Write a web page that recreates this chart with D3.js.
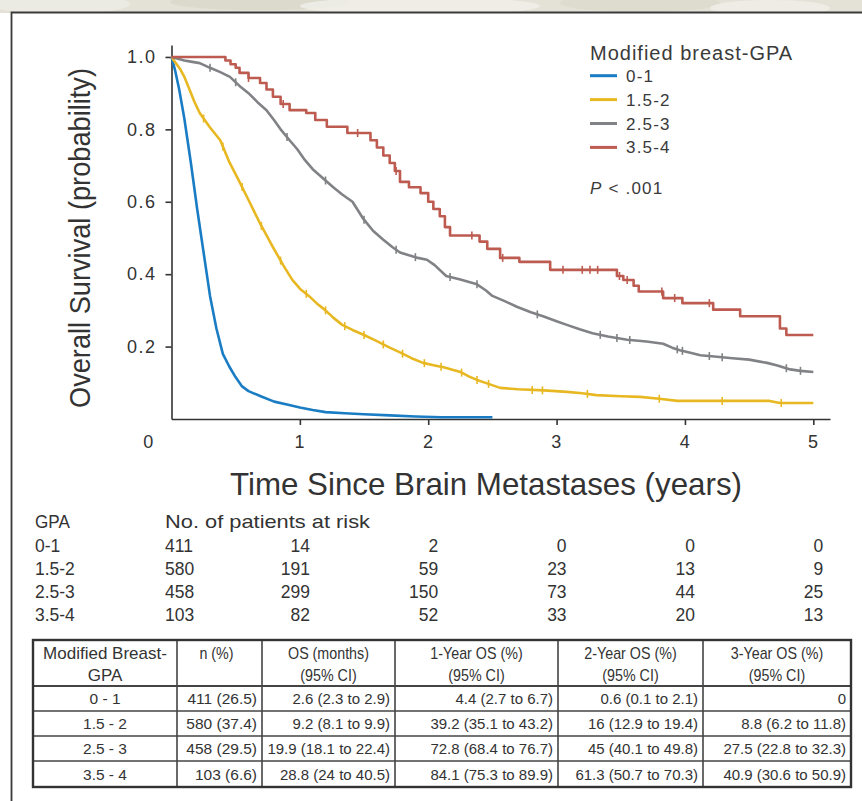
<!DOCTYPE html>
<html><head><meta charset="utf-8">
<script src="https://cdn.jsdelivr.net/npm/d3@7"></script>
<style>
html,body{margin:0;padding:0;background:#fff;}
svg{display:block;font-family:"Liberation Sans",Arial,Helvetica,sans-serif;}
</style></head><body>
<svg id="chart" width="862" height="801"></svg>
<script>
// ---------------- DATA ----------------
const groups = ["0-1", "1.5-2", "2.5-3", "3.5-4"];
const legendTitle = "Modified breast-GPA";
const pValueText = ".001";

// Kaplan-Meier estimates: [years, survival probability]
const curve01 = [[0,1],[0.03,0.96],[0.06,0.91],[0.1,0.83],[0.15,0.71],[0.2,0.58],[0.25,0.46],[0.3,0.34],[0.35,0.25],[0.4,0.18],[0.45,0.145],[0.5,0.115],[0.55,0.09],[0.6,0.077],[0.7,0.062],[0.8,0.048],[0.9,0.04],[1.0,0.032],[1.1,0.025],[1.2,0.019],[1.35,0.016],[1.5,0.013],[1.7,0.01],[1.9,0.007],[2.1,0.005],[2.5,0.005]];
const curve152 = [[0,1],[0.03,0.985],[0.07,0.965],[0.1,0.945],[0.14,0.91],[0.18,0.875],[0.22,0.845],[0.3,0.805],[0.38,0.77],[0.45,0.71],[0.53,0.655],[0.6,0.605],[0.69,0.54],[0.79,0.475],[0.87,0.425],[0.94,0.385],[1.0,0.36],[1.07,0.34],[1.13,0.32],[1.2,0.3],[1.26,0.28],[1.33,0.26],[1.41,0.246],[1.5,0.232],[1.6,0.215],[1.7,0.197],[1.78,0.184],[1.87,0.168],[1.96,0.155],[2.05,0.148],[2.12,0.143],[2.25,0.13],[2.32,0.117],[2.38,0.108],[2.47,0.097],[2.56,0.086],[2.7,0.082],[2.9,0.079],[3.08,0.075],[3.2,0.071],[3.31,0.066],[3.5,0.063],[3.65,0.061],[3.8,0.056],[3.94,0.05],[4.2,0.05],[4.5,0.05],[4.66,0.05],[4.74,0.044],[5.0,0.044]];
const curve253 = [[0,1],[0.05,0.995],[0.1,0.99],[0.15,0.987],[0.22,0.983],[0.3,0.97],[0.38,0.958],[0.455,0.945],[0.53,0.92],[0.6,0.9],[0.67,0.875],[0.74,0.853],[0.8,0.825],[0.85,0.8],[0.92,0.77],[0.98,0.745],[1.04,0.715],[1.1,0.69],[1.18,0.665],[1.26,0.64],[1.33,0.62],[1.41,0.6],[1.49,0.555],[1.57,0.52],[1.65,0.495],[1.72,0.475],[1.78,0.46],[1.85,0.452],[1.92,0.445],[1.99,0.44],[2.05,0.425],[2.14,0.395],[2.25,0.385],[2.38,0.372],[2.45,0.355],[2.5,0.34],[2.6,0.325],[2.69,0.31],[2.8,0.295],[2.9,0.283],[3.0,0.27],[3.08,0.26],[3.18,0.248],[3.28,0.237],[3.4,0.228],[3.55,0.219],[3.7,0.214],[3.83,0.208],[3.9,0.197],[3.96,0.19],[4.05,0.182],[4.12,0.176],[4.25,0.172],[4.37,0.168],[4.5,0.164],[4.64,0.155],[4.72,0.148],[4.82,0.137],[4.9,0.133],[5.0,0.13]];
const curve354 = [[0,1],[0.42,0.99],[0.46,0.98],[0.5,0.97],[0.53,0.956],[0.6,0.942],[0.69,0.928],[0.74,0.91],[0.79,0.89],[0.85,0.87],[0.92,0.853],[1.05,0.845],[1.12,0.826],[1.21,0.807],[1.37,0.79],[1.55,0.77],[1.6,0.75],[1.65,0.728],[1.7,0.707],[1.74,0.685],[1.78,0.655],[1.85,0.64],[1.94,0.624],[2.0,0.6],[2.04,0.58],[2.09,0.56],[2.13,0.53],[2.17,0.507],[2.4,0.49],[2.46,0.47],[2.56,0.445],[2.71,0.434],[2.95,0.412],[3.47,0.395],[3.52,0.384],[3.6,0.368],[3.64,0.352],[3.83,0.334],[3.98,0.32],[4.22,0.302],[4.43,0.284],[4.74,0.25],[4.79,0.232],[5.0,0.232]];

// censoring marks (years)
const censor01 = [];
const censor152 = [0.25,0.4,0.55,0.7,0.85,1.05,1.2,1.35,1.5,1.65,1.8,1.97,2.1,2.26,2.38,2.47,2.81,2.89,3.24,3.8,4.29,4.75];
const censor253 = [0.3,0.5,0.9,1.2,1.5,1.75,1.9,2.17,2.38,2.85,3.34,3.47,3.57,3.94,3.98,4.19,4.29,4.79,4.9];
const censor354 = [0.6,0.87,1.45,1.75,2.34,2.58,3.05,3.2,3.26,3.32,3.49,3.55,3.82,3.92,4.19];

const xTicks = [0, 1, 2, 3, 4, 5];
const yTicks = [0.2, 0.4, 0.6, 0.8, 1.0];
const xTitle = "Time Since Brain Metastases (years)";
const yTitle = "Overall Survival (probability)";

// numbers at risk
const riskHeader = ["GPA", "No. of patients at risk"];
const riskTimes = [0, 1, 2, 3, 4, 5];
const risk01 = [411, 14, 2, 0, 0, 0];
const risk152 = [580, 191, 59, 23, 13, 9];
const risk253 = [458, 299, 150, 73, 44, 25];
const risk354 = [103, 82, 52, 33, 20, 13];

// summary table
const tableHeader = [["Modified Breast-", "GPA"], ["n (%)"], ["OS (months)", "(95% CI)"], ["1-Year OS (%)", "(95% CI)"], ["2-Year OS (%)", "(95% CI)"], ["3-Year OS (%)", "(95% CI)"]];
const tableGPA = ["0 - 1", "1.5 - 2", "2.5 - 3", "3.5 - 4"];
const tableN = ["411 (26.5)", "580 (37.4)", "458 (29.5)", "103 (6.6)"];
const tableOS = ["2.6 (2.3 to 2.9)", "9.2 (8.1 to 9.9)", "19.9 (18.1 to 22.4)", "28.8 (24 to 40.5)"];
const table1y = ["4.4 (2.7 to 6.7)", "39.2 (35.1 to 43.2)", "72.8 (68.4 to 76.7)", "84.1 (75.3 to 89.9)"];
const table2y = ["0.6 (0.1 to 2.1)", "16 (12.9 to 19.4)", "45 (40.1 to 49.8)", "61.3 (50.7 to 70.3)"];
const table3y = ["0", "8.8 (6.2 to 11.8)", "27.5 (22.8 to 32.3)", "40.9 (30.6 to 50.9)"];

// ---------------- DRAW ----------------
const colors = ["#1a7dc4", "#e8b823", "#808285", "#bd5b50"];
const curves = [curve01, curve152, curve253, curve354];
const censors = [censor01, censor152, censor253, censor354];
const stepped = [false, false, false, true];
const risks = [risk01, risk152, risk253, risk354];
const ink = "#333";

const svg = d3.select("#chart");

function condense(sel, factor) {
  sel.each(function () {
    const w = this.getComputedTextLength();
    d3.select(this).attr("textLength", w * factor).attr("lengthAdjust", "spacingAndGlyphs");
  });
  return sel;
}

// faint photographic band on top
const band = svg.append("g");
band.append("rect").attr("x", 0).attr("y", 0).attr("width", 862).attr("height", 13).attr("fill", "#e4e2d7");
[[60,4,70,10,"#eeede6"],[260,2,90,8,"#d9d7ca"],[420,6,120,9,"#f1f0ea"],[640,3,80,9,"#dcdacd"],[770,8,60,8,"#f0efe9"]].forEach(e => {
  band.append("ellipse").attr("cx", e[0]).attr("cy", e[1]).attr("rx", e[2]).attr("ry", e[3]).attr("fill", e[4]).attr("opacity", 0.8);
});
svg.append("rect").attr("x", 0).attr("y", 13).attr("width", 862).attr("height", 788).attr("fill", "#fff");
svg.append("path").attr("d", "M862,12.5H11.5V801").attr("fill", "none").attr("stroke", "#3a3a3a").attr("stroke-width", 1.8);

const x = d3.scaleLinear().domain([0, 5.13]).range([171.5, 830]);
const y = d3.scaleLinear().domain([0, 1.033]).range([419, 45]);

// axes
const gx = svg.append("g").attr("transform", "translate(0,419)")
  .call(d3.axisBottom(x).tickValues(xTicks).tickFormat(d3.format("d")).tickSize(6).tickPadding(10).tickSizeOuter(0));
const gy = svg.append("g").attr("transform", "translate(171.5,0)")
  .call(d3.axisLeft(y).tickValues(yTicks).tickFormat(d3.format(".1f")).tickSize(6).tickPadding(9).tickSizeOuter(0));
[gx, gy].forEach(g => {
  g.select(".domain").attr("stroke", ink).attr("stroke-width", 1.6);
  g.selectAll(".tick line").attr("stroke", ink).attr("stroke-width", 1.6);
  g.selectAll(".tick text").attr("fill", ink).attr("font-size", 18).attr("font-family", "Liberation Sans, Arial, sans-serif").attr("letter-spacing", 1.5);
});
gx.selectAll(".tick").filter(d => d === 0).select("line").remove();
gx.selectAll(".tick").filter(d => d === 0).select("text").attr("x", -23);

// axis titles
svg.append("text").attr("transform", "translate(90,238) rotate(-90)").attr("text-anchor", "middle")
  .attr("font-size", 29).attr("fill", ink).attr("textLength", 340).attr("lengthAdjust", "spacingAndGlyphs").text(yTitle);
svg.append("text").attr("x", 486).attr("y", 495).attr("text-anchor", "middle")
  .attr("font-size", 32).attr("fill", ink).attr("textLength", 512).attr("lengthAdjust", "spacingAndGlyphs").text(xTitle);

// curves
const valueAt = (pts, t, step) => {
  let i = d3.bisector(d => d[0]).right(pts, t) - 1;
  if (i < 0) return pts[0][1];
  if (step || i >= pts.length - 1) return pts[i][1];
  const a = pts[i], b = pts[i + 1];
  return a[1] + (b[1] - a[1]) * (t - a[0]) / (b[0] - a[0]);
};
const plot = svg.append("g");
curves.forEach((pts, k) => {
  const line = d3.line().x(d => x(d[0])).y(d => y(d[1])).curve(stepped[k] ? d3.curveStepAfter : d3.curveLinear);
  plot.append("path").datum(pts).attr("d", line).attr("fill", "none")
    .attr("stroke", colors[k]).attr("stroke-width", 2.6).attr("stroke-linejoin", "round");
  plot.append("g").selectAll("line").data(censors[k]).join("line")
    .attr("x1", d => x(d)).attr("x2", d => x(d))
    .attr("y1", d => y(valueAt(pts, d, stepped[k])) - 4).attr("y2", d => y(valueAt(pts, d, stepped[k])) + 4)
    .attr("stroke", colors[k]).attr("stroke-width", 1.6);
});

// legend
const leg = svg.append("g").attr("fill", "#3a3a3a");
leg.append("text").attr("x", 590).attr("y", 59.5).attr("font-size", 20).attr("letter-spacing", 1).text(legendTitle);
groups.forEach((g, i) => {
  const cy = 75.7 + i * 23.9;
  leg.append("line").attr("x1", 590).attr("x2", 617).attr("y1", cy).attr("y2", cy).attr("stroke", colors[i]).attr("stroke-width", 3);
  leg.append("text").attr("x", 626).attr("y", cy + 6).attr("font-size", 17).attr("letter-spacing", 1.2).text(g);
});
const pt = leg.append("text").attr("x", 590).attr("y", 194).attr("font-size", 17).attr("letter-spacing", 1.2);
pt.append("tspan").attr("font-style", "italic").text("P");
pt.append("tspan").text(" < " + pValueText);

// risk table
const rt = svg.append("g").attr("fill", ink).attr("font-size", 19);
condense(rt.append("text").attr("x", 35).attr("y", 528).text(riskHeader[0]), 0.9);
rt.append("text").attr("x", 165).attr("y", 528).attr("textLength", 205).attr("lengthAdjust", "spacingAndGlyphs").text(riskHeader[1]);
groups.forEach((g, i) => {
  const by = 552 + i * 23;
  condense(rt.append("text").attr("x", 35).attr("y", by).text(g), 0.92);
  riskTimes.forEach((t, j) => {
    let el;
    if (j === 0) el = rt.append("text").attr("x", 165).attr("y", by).text(risks[i][j]);
    else el = rt.append("text").attr("x", x(t) + 10).attr("y", by).attr("text-anchor", "end").text(risks[i][j]);
    condense(el, 0.92);
  });
});

// summary table
const colEdges = [33, 177, 262, 395, 558, 703, 851];
const rowEdges = [640, 686, 711, 736, 761, 787];
const tb = svg.append("g");
tb.append("rect").attr("x", 33).attr("y", 640).attr("width", 818).attr("height", 147).attr("fill", "#fff");
colEdges.slice(1, -1).forEach(cx => tb.append("line").attr("x1", cx).attr("x2", cx).attr("y1", 640).attr("y2", 787).attr("stroke", "#444").attr("stroke-width", 1.6));
rowEdges.slice(1, -1).forEach(ry => tb.append("line").attr("x1", 33).attr("x2", 851).attr("y1", ry).attr("y2", ry).attr("stroke", "#444").attr("stroke-width", ry === 686 ? 2 : 1.6));
tb.append("rect").attr("x", 33).attr("y", 640).attr("width", 818).attr("height", 147).attr("fill", "none").attr("stroke", "#333").attr("stroke-width", 2.4);

const tt = tb.append("g").attr("fill", ink);
tableHeader.forEach((lines, c) => {
  const cx = (colEdges[c] + colEdges[c + 1]) / 2;
  lines.forEach((ln, l) => {
    const el = tt.append("text").attr("x", c === 1 ? cx - 3 : cx).attr("y", 659 + l * 22).attr("text-anchor", "middle").attr("font-size", 17).text(ln);
    condense(el, c === 0 ? 1.0 : 0.84);
  });
});
const cols = [tableGPA, tableN, tableOS, table1y, table2y, table3y];
cols.forEach((col, c) => {
  col.forEach((v, r) => {
    const by = (rowEdges[r + 1] + rowEdges[r + 2]) / 2 + 5.5;
    if (c === 0) tt.append("text").attr("x", (colEdges[0] + colEdges[1]) / 2).attr("y", by).attr("text-anchor", "middle").attr("font-size", 15.5).text(v);
    else tt.append("text").attr("x", colEdges[c + 1] - 5).attr("y", by).attr("text-anchor", "end").attr("font-size", c === 1 ? 15.5 : 15).text(v);
  });
});
</script>
</body></html>
